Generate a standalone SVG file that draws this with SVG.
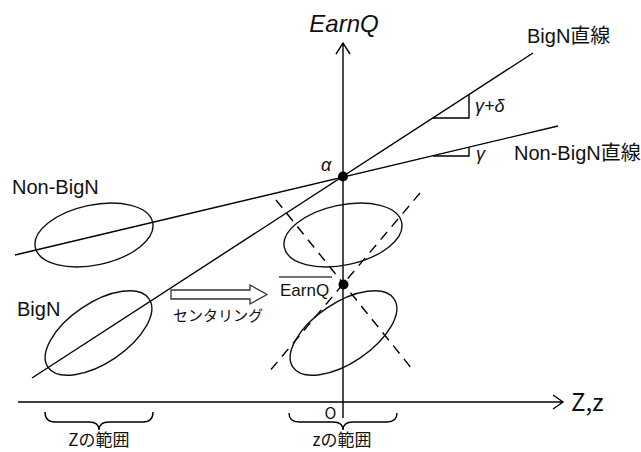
<svg xmlns="http://www.w3.org/2000/svg" width="641" height="452" viewBox="0 0 641 452">
<style>
.ln{fill:none;stroke:#000;stroke-width:1.4}
.dash{fill:none;stroke:#000;stroke-width:1.4;stroke-dasharray:10 7}
.el{fill:none;stroke:#111;stroke-width:1.4}
.t{font-family:"Liberation Sans",Arial,"Noto Sans CJK JP",sans-serif;fill:#111}
.j{font-family:"Noto Sans CJK JP","Liberation Sans",sans-serif;fill:#111}
.i{font-style:italic}
</style>
<rect width="641" height="452" fill="#fff"/>
<g id="connectors">
  <path class="ln" d="M18,402 L563,402 M553,395 L563,402 L553,409"/>
  <path class="ln" d="M343,418 L343,43 M336,54 L343,43 L350,54"/>
  <path class="ln" d="M32,378 L533,53"/>
  <path class="ln" d="M15,255 L558,126"/>
  <path class="dash" d="M276,200 L412,369"/>
  <path class="dash" d="M420,193 L268,373"/>
  <path class="ln" stroke="#333" d="M433,118 L469,118 L469,94.5"/>
  <path class="ln" stroke="#333" d="M433,156 L469,156 L469,147"/>
  <path class="ln" d="M45,412 Q45,422 55,422 L89,422 Q99,422 99,430 Q99,422 109,422 L143,422 Q153,422 153,412"/>
  <path class="ln" d="M289,413 Q289,422 299,422 L333,422 Q343,422 343,430 Q343,422 353,422 L387,422 Q397,422 397,413"/>
  <path fill="#fff" stroke="#333" stroke-width="1.3" d="M171,290 L250,290 L250,285 L267,294.5 L250,304 L250,299 L171,299 Z"/>
</g>
<g id="axis-labels">
  <text class="t i" x="344" y="32" font-size="24" text-anchor="middle">EarnQ</text>
  <text class="j" x="571" y="411" font-size="24">Z,z</text>
  <text class="j" x="330.5" y="419" font-size="16" text-anchor="middle">O</text>
</g>
<g id="node-alpha">
  <circle cx="343" cy="176.5" r="5" fill="#000"/>
  <text class="t i" x="321" y="171" font-size="18">α</text>
</g>
<g id="node-earnq-bar">
  <circle cx="343.5" cy="284.5" r="5" fill="#000"/>
  <line x1="279" y1="277" x2="332" y2="277" stroke="#444" stroke-width="1.3"/>
  <text class="t" x="280" y="296" font-size="17">EarnQ</text>
</g>
<g id="line-labels">
  <text class="t" x="527" y="43" font-size="20">BigN<tspan class="j">直線</tspan></text>
  <text class="t" x="514" y="160" font-size="20">Non-BigN<tspan class="j">直線</tspan></text>
  <text class="t i" x="475" y="112" font-size="18">γ+δ</text>
  <text class="t i" x="476" y="160" font-size="18">γ</text>
</g>
<g id="node-nonbign">
  <text class="t" x="12" y="194" font-size="20">Non-BigN</text>
  <ellipse class="el" cx="94" cy="235" rx="60" ry="30" transform="rotate(-12 94 235)"/>
</g>
<g id="node-bign">
  <text class="t" x="17" y="316" font-size="20">BigN</text>
  <ellipse class="el" cx="98.5" cy="333" rx="61" ry="30" transform="rotate(-34 98.5 333)"/>
</g>
<g id="node-centered-nonbign">
  <ellipse class="el" cx="343" cy="235" rx="60" ry="30" transform="rotate(-12 343 235)"/>
</g>
<g id="node-centered-bign">
  <ellipse class="el" cx="343.5" cy="333" rx="61" ry="30" transform="rotate(-34 343.5 333)"/>
</g>
<g id="centering-label">
  <text class="j" x="218" y="321" font-size="15" text-anchor="middle" fill="#333">センタリング</text>
</g>
<g id="ranges">
  <text class="j" x="99" y="446" font-size="17" text-anchor="middle">Zの範囲</text>
  <text class="j" x="342" y="446" font-size="17" text-anchor="middle">zの範囲</text>
</g>
</svg>
